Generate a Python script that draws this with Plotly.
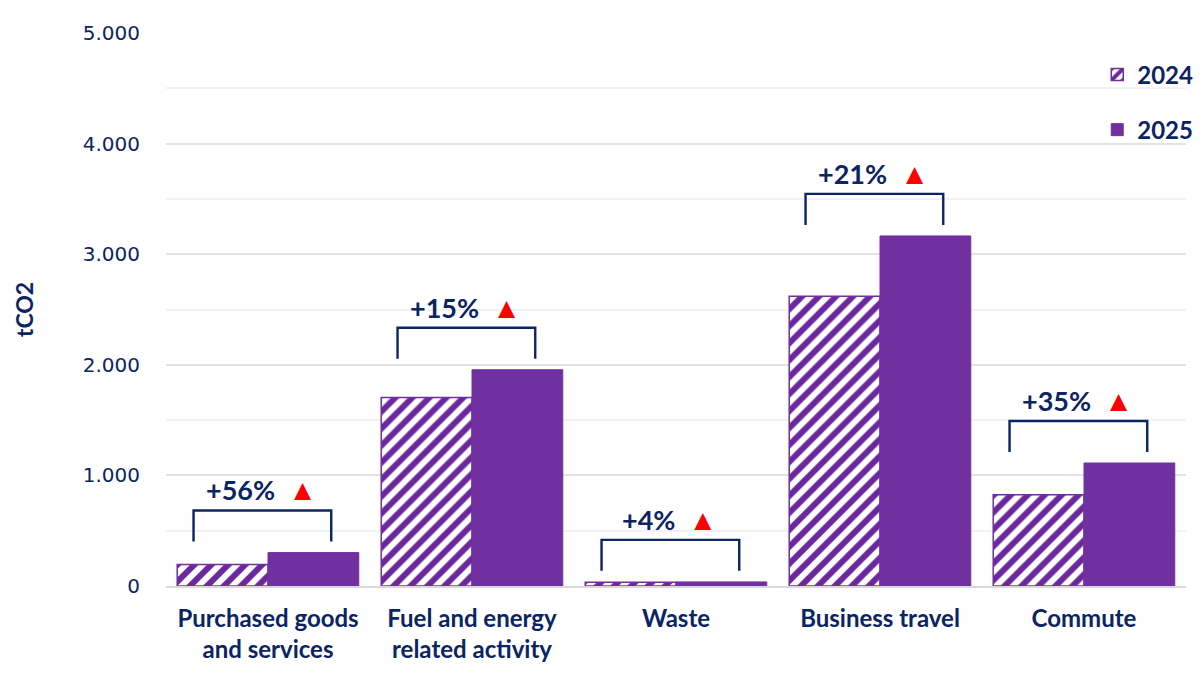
import plotly.graph_objects as go

categories = ["Purchased goods<br>and services", "Fuel and energy<br>related activity",
              "Waste", "Business travel", "Commute"]
values_2024 = [195, 1705, 35, 2620, 825]
values_2025 = [302, 1955, 37, 3165, 1112]
change_labels = ["+56%", "+15%", "+4%", "+21%", "+35%"]
y_ticks = [0, 1000, 2000, 3000, 4000, 5000]

PURPLE = "#7030A0"
NAVY = "#0B2463"
BOLD = "Lato"

fig = go.Figure()
fig.add_trace(go.Bar(
    name="2024", x=categories, y=values_2024,
    marker=dict(color="white", line=dict(color=PURPLE, width=1.5),
                pattern=dict(shape="/", fgcolor="#6A289C", bgcolor="white", size=12,
                             solidity=0.5, fgopacity=1)),
    legendgroup="a",
))
fig.add_trace(go.Bar(
    name="2025", x=categories, y=values_2025,
    marker=dict(color=PURPLE, line=dict(color=PURPLE, width=1)),
    legendgroup="b",
))

for i, (a, b, lab) in enumerate(zip(values_2024, values_2025, change_labels)):
    top = max(a, b) + 380
    low = top - 280
    x0, x1 = i - 0.365, i + 0.31
    fig.add_shape(type="path",
                  path=f"M {x0} {low} L {x0} {top} L {x1} {top} L {x1} {low}",
                  xref="x", yref="y", line=dict(color=NAVY, width=2.4))
    fig.add_annotation(x=i - 0.03, y=top + 20, xref="x", yref="y", yanchor="bottom",
                       text=f"{lab}&nbsp;&nbsp;<span style='color:#FF0000;font-size:29px'>▲</span>",
                       showarrow=False, font=dict(family=BOLD, size=27, color=NAVY, weight="bold"))

fig.update_layout(
    width=1204, height=685,
    margin=dict(l=158, r=26, t=25, b=107),
    paper_bgcolor="white", plot_bgcolor="white",
    barmode="group", bargap=0.11, bargroupgap=0,
    separators=",.",
    showlegend=True,
    legend=dict(x=1.012, xanchor="right", y=0.965, yanchor="top",
                font=dict(family=BOLD, size=24, color=NAVY, weight="bold"),
                tracegroupgap=21, bgcolor="rgba(0,0,0,0)", itemwidth=30),
    xaxis=dict(tickfont=dict(family=BOLD, size=24, color=NAVY, weight="bold"),
               showline=True, linecolor="#D9D9D9", linewidth=1.5, ticks="",
               ticklabelstandoff=10, automargin=False),
    yaxis=dict(range=[0, 5000], tickvals=y_ticks, tickformat=",d",
               tickfont=dict(family="DejaVu Sans", size=20, color=NAVY),
               showgrid=True, gridcolor="#E3E3E3", gridwidth=1.5,
               minor=dict(dtick=500, showgrid=True, gridcolor="#F2F2F2", gridwidth=1.5),
               ticklabelstandoff=25, zeroline=False, automargin=False,
               title=dict(text="tCO2", font=dict(family=BOLD, size=23, color=NAVY, weight="bold"),
                          standoff=42)),
)

fig.write_html("out.html")
